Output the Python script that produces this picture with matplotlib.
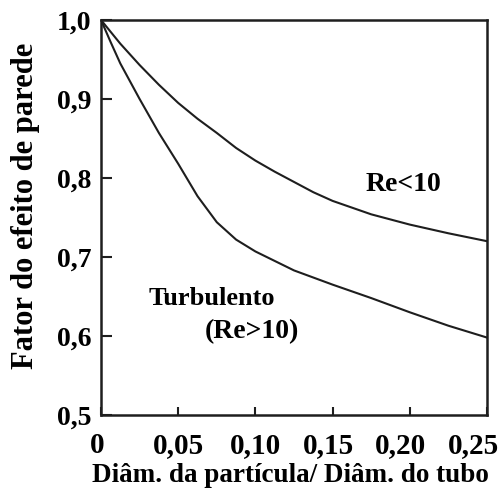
import matplotlib
matplotlib.use("Agg")
import matplotlib.pyplot as plt
from matplotlib.transforms import ScaledTranslation

# fator de parede vs razao de diametros
razao = [0, 0.00625, 0.0125, 0.025, 0.0375, 0.05, 0.0625, 0.075, 0.0875, 0.10,
         0.1125, 0.125, 0.1375, 0.15, 0.175, 0.20, 0.225, 0.25]
fator_laminar = [1.0, 0.985, 0.970, 0.943, 0.918, 0.895, 0.875, 0.857, 0.838, 0.822,
                 0.808, 0.795, 0.782, 0.771, 0.754, 0.741, 0.730, 0.720]
fator_turb = [1.0, 0.972, 0.945, 0.900, 0.857, 0.818, 0.777, 0.744, 0.722, 0.707,
              0.695, 0.683, 0.674, 0.665, 0.648, 0.630, 0.613, 0.598]

xticks = [0, 0.05, 0.10, 0.15, 0.20, 0.25]
xlabels = ['0', '0,05', '0,10', '0,15', '0,20', '0,25']
yticks = [0.5, 0.6, 0.7, 0.8, 0.9, 1.0]
ylabels = ['0,5', '0,6', '0,7', '0,8', '0,9', '1,0']

plt.rcParams['font.family'] = ['Liberation Serif', 'DejaVu Serif']
plt.rcParams['font.weight'] = 'bold'

fig = plt.figure(figsize=(5.04, 4.91), dpi=100)
ax = fig.add_axes([0.2004, 0.1548, 0.7659, 0.8045])

cor = '#1e1e1e'
ax.plot(razao, fator_laminar, color=cor, lw=1.5)
ax.plot(razao, fator_turb, color=cor, lw=1.5)

ax.set_xlim(0, 0.25)
ax.set_ylim(0.5, 1.0)
ax.set_xticks(xticks)
ax.set_xticklabels(xlabels)
ax.set_yticks(yticks)
ax.set_yticklabels(ylabels)
ax.tick_params(direction='in', length=8, width=1.5, labelsize=20, color=cor, pad=7)
ax.tick_params(axis='x', length=6, pad=12, labelsize=21)
for s in ax.spines.values():
    s.set_linewidth(1.8)
    s.set_color(cor)

# rotulos do eixo x deslocados como no original (em pixels)
desloc = [-4, 0, 0, -4, -9, -14]
for t, dx in zip(ax.get_xticklabels(), desloc):
    t.set_transform(t.get_transform() + ScaledTranslation(dx / 100, 0, fig.dpi_scale_trans))

ax.set_xlabel('Diâm. da partícula/ Diâm. do tubo', fontsize=19.5, fontweight='bold',
              labelpad=3, x=0.49)
ax.set_ylabel('Fator do efeito de parede', fontsize=22, fontweight='bold',
              labelpad=12, y=0.53)

ax.text(0.1956, 0.792, 'Re<10', fontsize=20, fontweight='bold', ha='center', va='center')
ax.text(0.0719, 0.648, 'Turbulento', fontsize=19, fontweight='bold', ha='center', va='center')
ax.text(0.0978, 0.606, '(Re>10)', fontsize=20, fontweight='bold', ha='center', va='center')

fig.savefig('out.png', dpi=100)
